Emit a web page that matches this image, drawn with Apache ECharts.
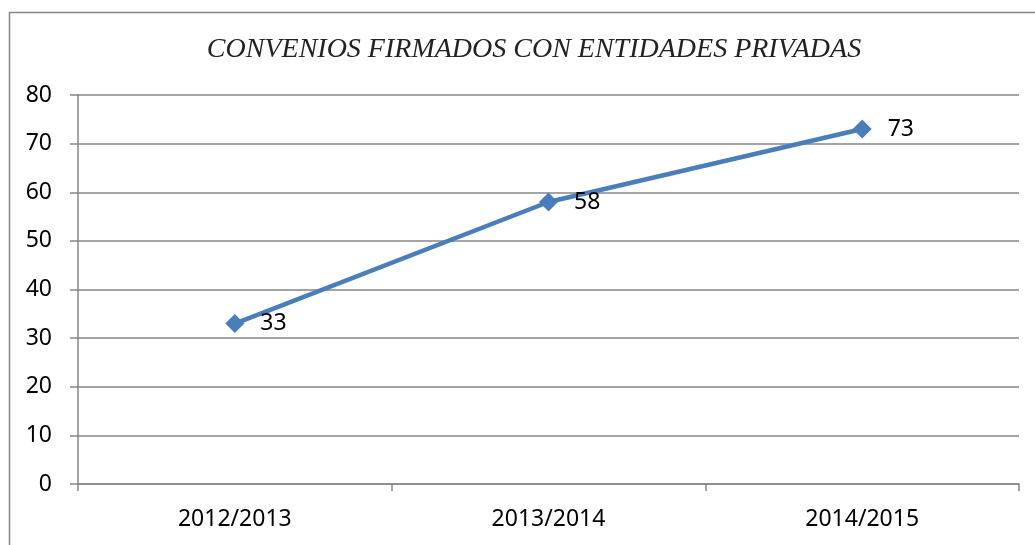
<!DOCTYPE html>
<html>
<head>
<meta charset="utf-8">
<script src="https://cdn.jsdelivr.net/npm/echarts@6/dist/echarts.min.js"></script>
<style>
  html, body { margin: 0; padding: 0; background: #fff; }
  #chart { width: 1035px; height: 545px; }
</style>
</head>
<body>
<div id="chart"></div>
<script>
// datos del grafico
var categories = ['2012/2013', '2013/2014', '2014/2015'];
var convenios = [33, 58, 73];
var titleText = 'CONVENIOS FIRMADOS CON ENTIDADES PRIVADAS';

var chart = echarts.init(document.getElementById('chart'));
var option = {
    animation: false,
    backgroundColor: '#fff',
    title: {
        text: titleText,
        left: 529,
        top: 31,
        textAlign: 'center',
        textStyle: {
            fontFamily: 'Liberation Serif',
            fontStyle: 'italic',
            fontWeight: 'normal',
            fontSize: 28,
            color: '#222'
        }
    },
    graphic: [{
        type: 'rect',
        shape: { x: 9.5, y: 12.5, width: 1040, height: 560 },
        style: { fill: 'none', stroke: '#868686', lineWidth: 1.5 },
        silent: true
    }],
    grid: {
        left: 78,
        right: 16,
        top: 95,
        bottom: 61
    },
    xAxis: {
        type: 'category',
        data: categories,
        boundaryGap: true,
        axisLine: { lineStyle: { color: '#868686', width: 1.5 } },
        axisTick: { show: true, length: 7, lineStyle: { color: '#868686', width: 1.5 } },
        axisLabel: {
            margin: 24,
            fontFamily: 'Noto Sans',
            fontSize: 23,
            color: '#000'
        }
    },
    yAxis: {
        type: 'value',
        min: 0,
        max: 80,
        interval: 10,
        axisLine: { show: true, lineStyle: { color: '#868686', width: 1.5 } },
        axisTick: { show: true, length: 8, lineStyle: { color: '#868686', width: 1.5 } },
        splitLine: { lineStyle: { color: '#868686', width: 1.5 } },
        axisLabel: {
            margin: 26,
            fontFamily: 'Noto Sans',
            fontSize: 23,
            color: '#000'
        }
    },
    series: [{
        name: 'Convenios',
        type: 'line',
        data: convenios,
        symbol: 'diamond',
        symbolSize: 19,
        lineStyle: { color: '#4a7ebb', width: 4.5 },
        itemStyle: { color: '#4a7ebb' },
        label: {
            show: true,
            position: 'right',
            distance: 16,
            fontFamily: 'Noto Sans',
            fontSize: 23,
            color: '#000'
        }
    }]
};
chart.setOption(option);
</script>
</body>
</html>
